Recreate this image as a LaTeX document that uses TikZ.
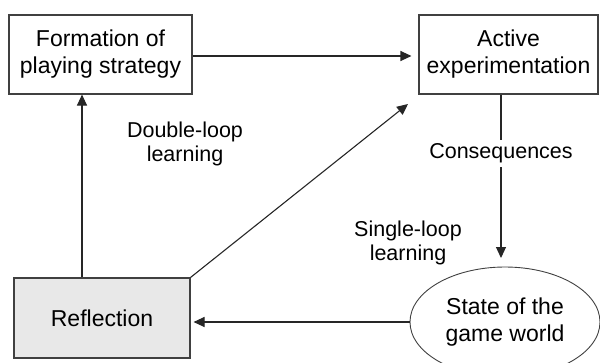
\documentclass[tikz,border=0pt]{standalone}
\usepackage{fontspec}
\setmainfont{Liberation Sans}
\usetikzlibrary{arrows.meta,shapes.geometric,calc}
\begin{document}
\begin{tikzpicture}[x=1pt,y=-1pt,
  boxst/.style={draw=black!75,line width=1.1pt,rectangle,inner sep=0pt,align=center,
    font=\fontsize{23}{27}\selectfont},
  lbl/.style={align=center,font=\fontsize{21.5}{24}\selectfont,inner sep=1pt},
  arr/.style={draw=black!85,line width=1.1pt,-{Triangle[length=11pt,width=10pt]}}]
\useasboundingbox (0,0) rectangle (600,362);
\node[boxst,minimum width=183pt,minimum height=79pt] (form) at (100.5,54.5) {Formation of\\playing strategy};
\node[boxst,minimum width=179pt,minimum height=79pt] (act) at (508.5,54.5) {Active\\experimentation};
\node[boxst,fill=black!9,minimum width=176pt,minimum height=80pt] (refl) at (102,318) {Reflection};
\node[ellipse,draw=black!75,line width=0.9pt,minimum width=190pt,minimum height=110pt,inner sep=0pt,align=center,
  font=\fontsize{23}{27}\selectfont] (ell) at (505,322) {State of the\\game world};
\coordinate (xa) at (82,0);
\coordinate (dtip) at (408,104);
\coordinate (ctip) at (501,258);
\coordinate (xc) at (501,0);
\draw[arr] (form.east |- 0,56) -- ($(act.west |- 0,56)+(-7,0)$);
\draw[arr] (refl.north -| xa) -- (form.south -| xa);
\draw[arr] (refl.north east) -- (dtip);
\draw[arr] (act.south -| xc) -- node[pos=0.36,fill=white,lbl,inner ysep=4pt] (cons) {Consequences} (ctip);
\draw[arr] (ell.west) -- ($(ell.west -| refl.east)+(3,0)$);
\node[lbl] (dbl) at (185,144) {Double-loop\\learning};
\node[lbl] (sgl) at (408,243) {Single-loop\\learning};
\end{tikzpicture}
\end{document}
